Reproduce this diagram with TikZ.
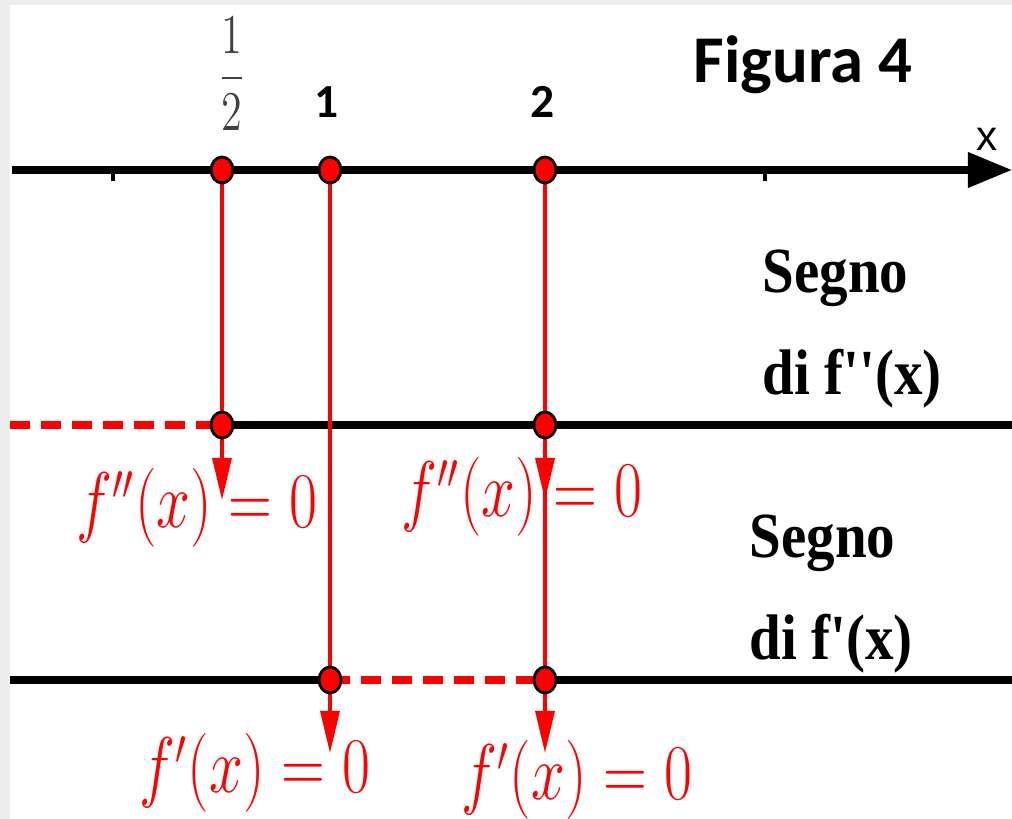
\documentclass[tikz,border=0pt]{standalone}
\usepackage{fontspec}
\newfontfamily\calibrif{Carlito}
\newfontfamily\timesf{Liberation Serif}
\newfontfamily\arialf{Liberation Sans}
\usetikzlibrary{arrows.meta, shapes.geometric, positioning}
\newcommand{\tallbox}[2]{\scalebox{1}[#1]{#2}}
\tikzset{
  axisline/.style={line width=2pt, black},
  redline/.style={line width=0.95pt, red},
  reddash/.style={line width=2.5pt, red, dash pattern=on 0.2cm off 0.11cm},
  downarrow/.style={redline, -{Triangle[length=4.2mm, width=1.9mm]}},
  dot/.style={ellipse, draw=black, line width=0.8pt, fill=red, minimum width=0.22cm, minimum height=0.26cm, inner sep=0pt},
  signlabel/.style={font=\timesf\bfseries\fontsize{16.2}{18}\selectfont, anchor=base west, inner sep=0pt},
  zerolabel/.style={text=red, font=\fontsize{16}{18}\selectfont, inner sep=0pt},
  ticklabel/.style={font=\calibrif\bfseries\fontsize{13.5}{15}\selectfont, anchor=base, inner sep=0pt}
}
\begin{document}
\begin{tikzpicture}[x=0.01cm, y=-0.01cm]
    % Frame (screenshot border)
    \fill[black!7] (0,0) rectangle (1012,819);
    \fill[white] (10,5) rectangle (1012,819);
    \useasboundingbox (0,0) rectangle (1012,819);

    % Points on the three lines
    \coordinate (xl) at (12,170);
    \coordinate (xr) at (1012,170);
    \coordinate (a1) at (222,170);
    \coordinate (a2) at (330,170);
    \coordinate (a3) at (545,170);
    \coordinate (sl) at (10,425);
    \coordinate (sr) at (1012,425);
    \coordinate (b1) at (222,425);
    \coordinate (b3) at (545,425);
    \coordinate (dl) at (10,680);
    \coordinate (dr) at (1012,680);
    \coordinate (c2) at (330,680);
    \coordinate (c3) at (545,680);
    \coordinate (t1) at (222,500);
    \coordinate (t3) at (545,500);
    \coordinate (u2) at (330,753);
    \coordinate (u3) at (545,753);

    % x axis
    \draw[axisline, -{Triangle[length=4.4mm, width=3.4mm]}] (xl) -- (xr);
    \foreach \x in {113, 765} {
        \draw[line width=1.3pt] (\x,170) -- (\x,181);
    }
    \node[font=\arialf\fontsize{12}{14}\selectfont, inner sep=0pt] (xlab) at (987,139) {x};

    % Sign of f''
    \draw[reddash] (sl) -- (b1);
    \draw[axisline] (b1) -- (sr);

    % Sign of f'
    \draw[axisline] (dl) -- (c2);
    \draw[reddash] (c2) -- (c3);
    \draw[axisline] (c3) -- (dr);

    % Red verticals
    \draw[redline] (a1) -- (b1);
    \draw[redline] (a2) -- (c2);
    \draw[redline] (a3) -- (c3);
    \draw[downarrow] (b1) -- (t1);
    \draw[downarrow] (b3) -- (t3);
    \draw[downarrow] (c2) -- (u2);
    \draw[downarrow] (c3) -- (u3);

    % Dots
    \foreach \p in {a1, a2, a3, b1, b3, c2, c3} {
        \node[dot] at (\p) {};
    }

    % Labels on the axis
    \node[text=black!75, font=\fontsize{13.2}{15}\selectfont, inner sep=0pt] (half) at (232,74)
        {\tallbox{1.33}{$\displaystyle\frac{1}{2}$}};
    \node[ticklabel] (one) at (327,118) {1};
    \node[ticklabel] (two) at (543,118) {2};
    \node[font=\calibrif\bfseries\fontsize{19}{22}\selectfont, anchor=base west, inner sep=0pt] (title) at (693,83) {Figura 4};

    % Zeros
    \node[zerolabel] (z1) at (197,508) {\tallbox{1.3}{$f''(x) = 0$}};
    \node[zerolabel] (z2) at (522,497) {\tallbox{1.3}{$f''(x) = 0$}};
    \node[zerolabel] (z3) at (255,773) {\tallbox{1.3}{$f'(x) = 0$}};
    \node[zerolabel] (z4) at (577,780) {\tallbox{1.3}{$f'(x) = 0$}};

    % Sign labels
    \node[signlabel] (s1) at (762,293) {\tallbox{1.13}{Segno}};
    \node[signlabel] (s2) at (762,395) {\tallbox{1.13}{di f\textquotesingle\textquotesingle(x)}};
    \node[signlabel] (s3) at (749,558) {\tallbox{1.13}{Segno}};
    \node[signlabel] (s4) at (749,660) {\tallbox{1.13}{di f\textquotesingle(x)}};
\end{tikzpicture}
\end{document}
